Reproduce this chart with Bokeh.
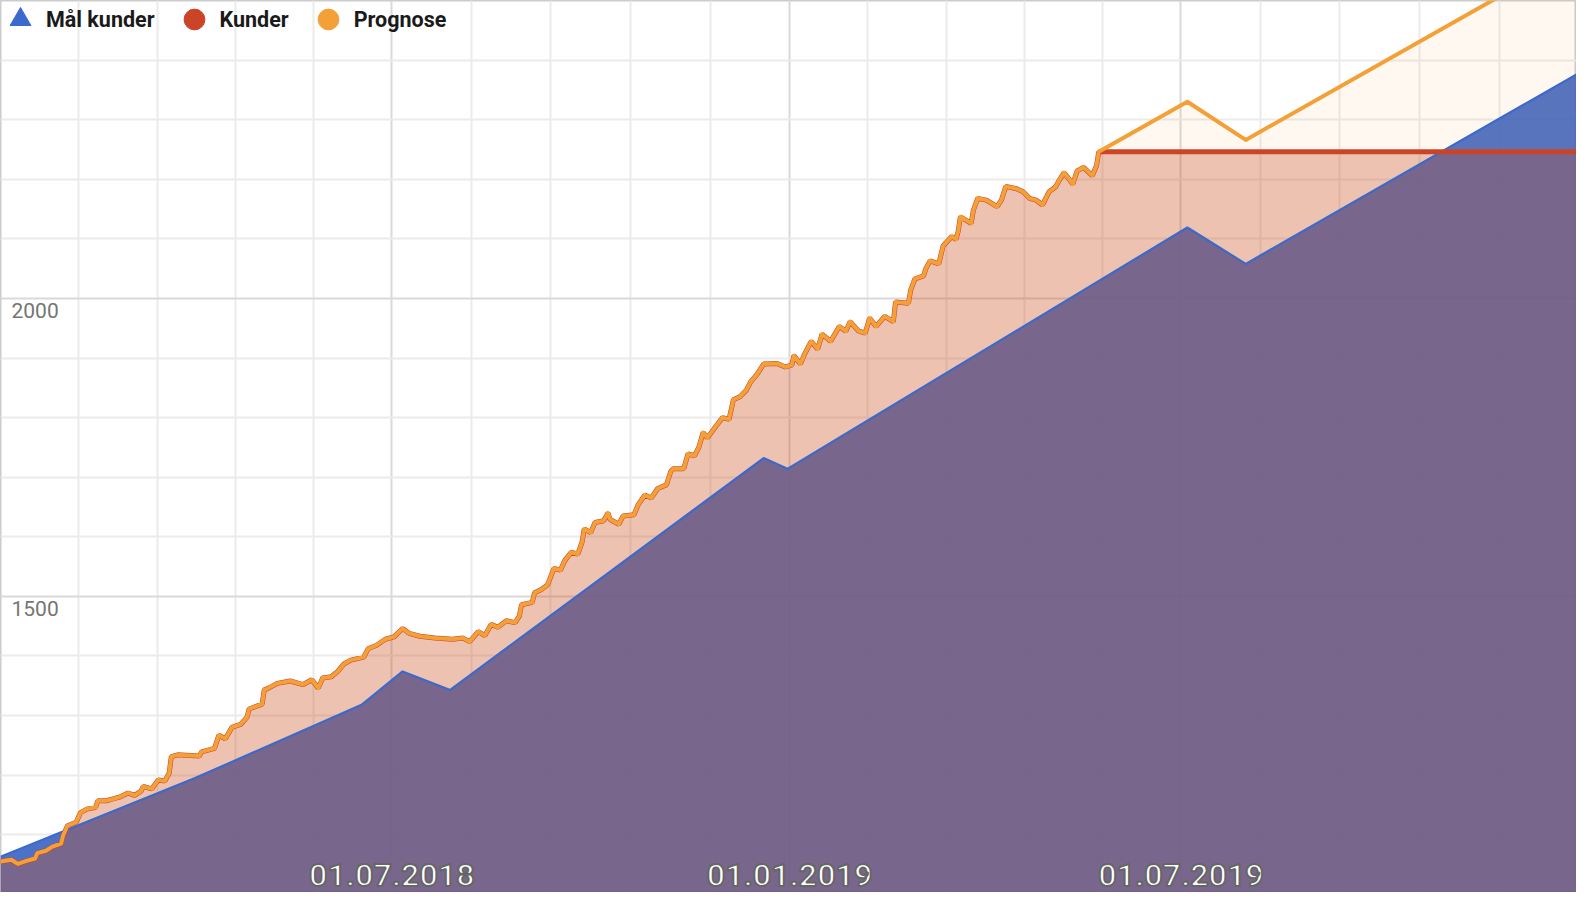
import pandas as pd
from bokeh.plotting import figure
from bokeh.models import Range1d, FixedTicker, Legend, LegendItem, ColumnDataSource
from bokeh.embed import file_html
from bokeh.resources import INLINE
from bokeh.core.properties import value

# ---------------- data ----------------
start_date = "2018-01-01"
end_date = "2019-12-31"

# Mål kunder (target), day offsets from start_date
maal_day = [0, 90, 167, 186, 208, 353, 364, 549, 576, 729]
maal_value = [1063, 1195, 1318, 1374, 1343, 1732, 1714, 2119, 2058, 2376]

# Historic customers (Kunder == Prognose up to last known day)
hist_day = [0, 5, 8, 12, 16, 17, 21, 24, 28, 29,
            31, 35, 37, 40, 44, 45, 49, 52, 55, 59,
            62, 65, 66, 70, 73, 76, 78, 79, 82, 92,
            93, 99, 101, 104, 107, 111, 114, 115, 121, 122,
            124, 128, 134, 140, 144, 147, 149, 153, 156, 159,
            162, 168, 170, 174, 178, 182, 186, 189, 194, 201,
            209, 214, 217, 221, 224, 227, 230, 234, 238, 240,
            241, 246, 247, 250, 253, 256, 259, 261, 264, 267,
            269, 270, 273, 275, 279, 281, 282, 286, 288, 293,
            295, 298, 301, 304, 308, 310, 311, 316, 318, 321,
            323, 325, 327, 331, 334, 337, 339, 342, 345, 347,
            350, 353, 359, 363, 366, 367, 370, 372, 375, 378,
            380, 384, 388, 391, 393, 397, 400, 402, 405, 409,
            413, 414, 420, 421, 423, 427, 428, 430, 434, 436,
            440, 442, 443, 444, 449, 450, 452, 456, 461, 463,
            465, 470, 473, 476, 479, 482, 485, 488, 490, 492,
            496, 498, 501, 505, 507, 508]
hist_value = [1055, 1058, 1051, 1056, 1060, 1069, 1073, 1080, 1085, 1099,
              1115, 1121, 1137, 1143, 1146, 1157, 1157, 1160, 1163, 1170,
              1166, 1173, 1181, 1177, 1192, 1190, 1203, 1231, 1234, 1232,
              1239, 1245, 1267, 1261, 1280, 1285, 1297, 1311, 1319, 1343,
              1346, 1354, 1358, 1352, 1360, 1346, 1363, 1365, 1374, 1387,
              1393, 1398, 1412, 1418, 1428, 1432, 1446, 1438, 1433, 1430,
              1428, 1430, 1424, 1441, 1434, 1453, 1448, 1459, 1456, 1467,
              1486, 1490, 1506, 1511, 1519, 1547, 1544, 1560, 1574, 1571,
              1591, 1613, 1607, 1624, 1627, 1640, 1629, 1621, 1635, 1637,
              1654, 1670, 1665, 1681, 1687, 1709, 1714, 1714, 1739, 1736,
              1750, 1775, 1766, 1786, 1800, 1797, 1830, 1835, 1846, 1860,
              1873, 1890, 1891, 1885, 1888, 1904, 1890, 1907, 1928, 1915,
              1940, 1928, 1953, 1945, 1961, 1945, 1942, 1967, 1953, 1970,
              1961, 1994, 1992, 2014, 2033, 2038, 2050, 2063, 2058, 2088,
              2104, 2099, 2113, 2137, 2126, 2148, 2168, 2165, 2154, 2165,
              2188, 2184, 2179, 2168, 2165, 2157, 2179, 2187, 2200, 2211,
              2192, 2214, 2220, 2206, 2223, 2246]

# Kunder after last known day (flat)
kunder_future_day = [729]
kunder_future_value = [2246]

# Prognose after last known day
prognose_future_day = [549, 576, 729]
prognose_future_value = [2330, 2266, 2580]

series_names = ["Mål kunder", "Kunder", "Prognose"]
x_tick_labels = ["01.07.2018", "01.01.2019", "01.07.2019"]
x_edge_dates = ["2018-01-01", "2020-01-01"]
y_tick_labels = ["1500", "2000"]
y_major = [1000, 1500, 2000, 2500]
y_minor_step = 100
y_min, y_max = 1003, 2500

# ---------------- helpers ----------------
t0 = pd.Timestamp(start_date)


def to_dates(days):
    return [t0 + pd.Timedelta(days=d) for d in days]


def ms(ts):
    return ts.value // 10**6


maal_x = to_dates(maal_day)
kunder_x = to_dates(hist_day + kunder_future_day)
kunder_y = hist_value + kunder_future_value
prog_x = to_dates(hist_day + prognose_future_day)
prog_y = hist_value + prognose_future_value

BLUE = "#3b69cc"
RED = "#cc4428"
ORANGE = "#f4a038"

W, H = 1576, 892
p = figure(width=W, height=H, x_axis_type="datetime",
           x_range=Range1d(start=t0, end=pd.Timestamp(end_date)),
           y_range=Range1d(start=y_min, end=y_max),
           output_backend="svg", toolbar_location=None,
           min_border=0, min_border_left=0, min_border_right=0,
           min_border_top=0, min_border_bottom=0)
p.xaxis.visible = False
p.yaxis.visible = False
p.background_fill_color = "white"
p.border_fill_color = "white"
p.outline_line_color = "#cccccc"
p.outline_line_width = 2

# grid
label_dates = [pd.to_datetime(s, format="%d.%m.%Y") for s in x_tick_labels]
major_dates = sorted([pd.Timestamp(d) for d in x_edge_dates] + label_dates)
minor_ms = []
for a, b in zip(major_dates[:-1], major_dates[1:]):
    for k in range(1, 5):
        minor_ms.append(ms(a + (b - a) * k / 5))
p.xgrid.ticker = FixedTicker(ticks=[ms(d) for d in major_dates], minor_ticks=minor_ms)
y_minor = [v for v in range(y_major[0], y_major[-1] + 1, y_minor_step) if v not in y_major]
p.ygrid.ticker = FixedTicker(ticks=y_major, minor_ticks=y_minor)
for g in (p.xgrid, p.ygrid):
    g.grid_line_color = "#d9d9d9"
    g.grid_line_width = 2
    g.minor_grid_line_color = "#ebebeb"
    g.minor_grid_line_width = 2

base = y_min - 100
# area fills
p.varea(x=maal_x, y1=[base] * len(maal_x), y2=maal_value, fill_color="#3863c2", fill_alpha=0.9)
p.varea(x=kunder_x, y1=[base] * len(kunder_x), y2=kunder_y, fill_color="#c4401c", fill_alpha=0.3)
p.varea(x=prog_x, y1=[base] * len(prog_x), y2=prog_y, fill_color=ORANGE, fill_alpha=0.07)

# lines
p.line(maal_x, maal_value, line_color=BLUE, line_width=2.2)
p.line(kunder_x, kunder_y, line_color=RED, line_width=5)
p.line(prog_x, prog_y, line_color=ORANGE, line_width=4, line_join="round")

# legend proxies
nan = float("nan")
r_tri = p.scatter(x=[t0], y=[nan], marker="triangle", fill_color=BLUE, line_color=BLUE)
r_red = p.scatter(x=[t0], y=[nan], marker="circle", fill_color=RED, line_color=RED)
r_org = p.scatter(x=[t0], y=[nan], marker="circle", fill_color=ORANGE, line_color=ORANGE)
legend = Legend(items=[LegendItem(label=series_names[0], renderers=[r_tri]),
                       LegendItem(label=series_names[1], renderers=[r_red]),
                       LegendItem(label=series_names[2], renderers=[r_org])],
                orientation="horizontal", location=(-6, H - 45),
                padding=0, margin=0, spacing=13, label_standoff=0,
                glyph_width=52, glyph_height=52,
                background_fill_alpha=0, border_line_alpha=0,
                label_text_font="Roboto", label_text_font_size="21.5px",
                label_text_font_style="bold", label_text_color="#1a1a1a")
p.add_layout(legend)

# x tick labels inside plot
xsrc = ColumnDataSource(dict(x=label_dates, y=[y_min] * len(label_dates), t=x_tick_labels))
p.text(x="x", y="y", text="t", source=xsrc, text_align="center", text_baseline="alphabetic",
       y_offset=-18, text_font=value("Roboto"), text_font_size="32px", text_font_style="bold",
       text_color="white", text_outline_color="#666666")

# y tick labels inside plot
ysrc = ColumnDataSource(dict(x=[t0] * len(y_tick_labels), y=[float(s) for s in y_tick_labels], t=y_tick_labels))
p.text(x="x", y="y", text="t", source=ysrc, text_align="left", text_baseline="alphabetic",
       x_offset=11, y_offset=12, text_font=value("Roboto"), text_font_size="21px",
       text_color="#757575")

open("out.html", "w").write(file_html(p, INLINE))
